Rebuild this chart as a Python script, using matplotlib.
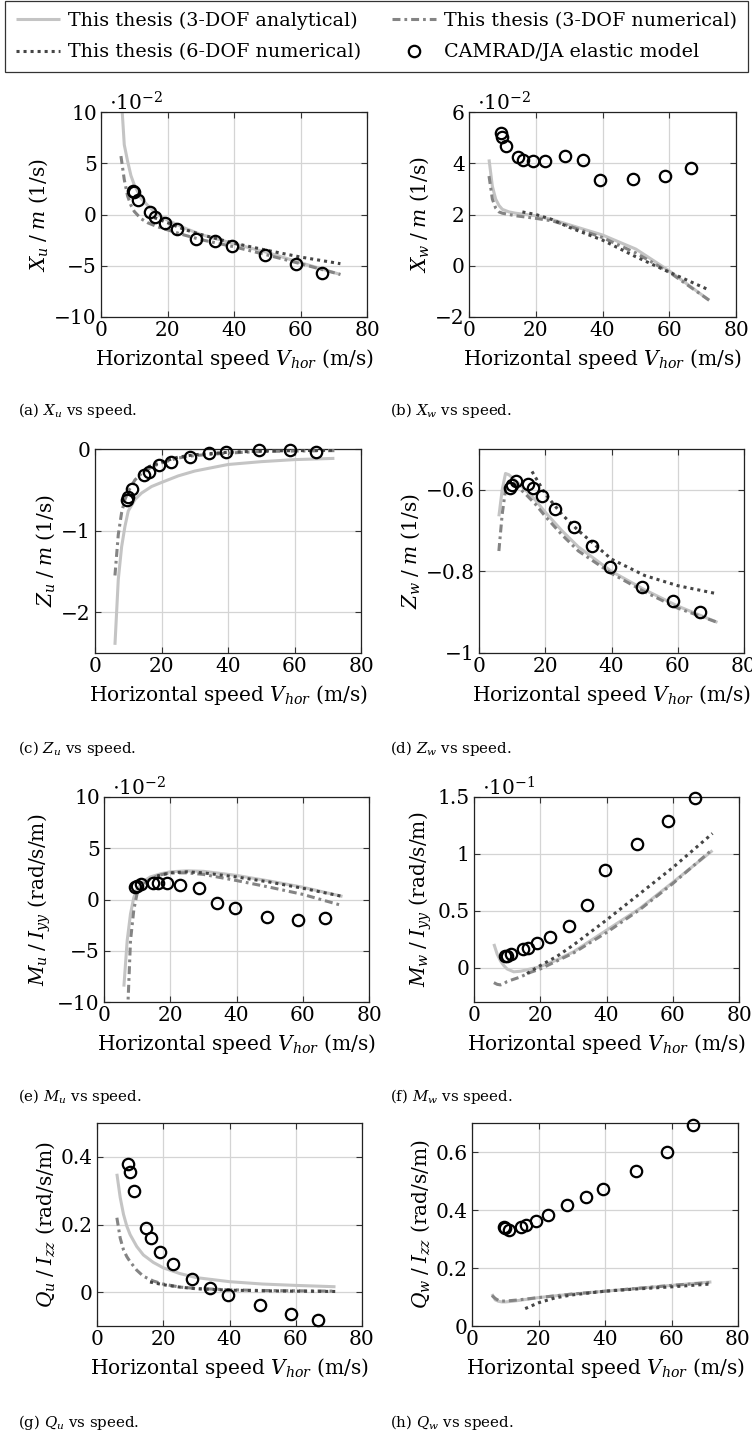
import matplotlib
matplotlib.use("Agg")
import matplotlib.pyplot as plt

plt.rcParams['font.family'] = ['DejaVu Serif']
plt.rcParams['mathtext.fontset'] = 'dejavuserif'

# ---------------- data ----------------
V_cam = [9.5, 10.0, 11.2, 14.7, 16.2, 19.1, 22.8, 28.7, 34.2, 39.4, 49.2, 58.6, 66.6]
V_3dof = [6, 7, 8, 9, 10, 12, 14, 17, 20, 25, 30, 40, 50, 60, 72]
V_6dof = [16, 20, 25, 30, 40, 50, 60, 72]

# (a) Xu/m  (x 1e-2)
xu_an = [12.0, 6.8, 5.2, 3.8, 2.9, 1.6, 0.9, 0.0, -0.55, -1.3, -1.95, -2.85, -3.7, -4.7, -5.85]
xu_dd = [5.7, 3.4, 1.8, 0.9, 0.3, -0.4, -0.8, -1.2, -1.5, -2.0, -2.45, -3.15, -3.95, -4.8, -5.85]
xu_6d = [-0.3, -0.8, -1.45, -1.95, -2.8, -3.5, -4.15, -4.8]
xu_cam = [2.33, 2.17, 1.39, 0.21, -0.21, -0.83, -1.45, -2.4, -2.56, -3.05, -3.93, -4.84, -5.66]

# (b) Xw/m  (x 1e-2)
xw_an = [4.15, 3.1, 2.6, 2.35, 2.2, 2.1, 2.05, 2.0, 1.95, 1.8, 1.6, 1.2, 0.65, -0.2, -1.35]
xw_dd = [3.5, 2.6, 2.25, 2.1, 2.05, 2.0, 1.95, 1.9, 1.85, 1.75, 1.55, 1.1, 0.5, -0.25, -1.35]
xw_6d = [2.1, 2.0, 1.8, 1.5, 1.0, 0.35, -0.25, -0.95]
xw_cam = [5.18, 5.04, 4.69, 4.24, 4.12, 4.07, 4.10, 4.29, 4.12, 3.35, 3.37, 3.50, 3.80]

# (c) Zu/m
zu_an = [-2.4, -1.6, -1.2, -0.95, -0.76, -0.62, -0.54, -0.46, -0.41, -0.33, -0.27, -0.19, -0.155, -0.13, -0.115]
zu_dd = [-1.55, -1.05, -0.78, -0.62, -0.52, -0.38, -0.3, -0.22, -0.17, -0.11, -0.08, -0.05, -0.03, -0.025, -0.02]
zu_6d = [-0.22, -0.16, -0.1, -0.07, -0.04, -0.025, -0.02, -0.015]
zu_cam = [-0.62, -0.59, -0.49, -0.32, -0.28, -0.20, -0.155, -0.094, -0.045, -0.037, -0.016, -0.008, -0.033]

# (d) Zw/m
zw_an = [-0.665, -0.6, -0.56, -0.563, -0.57, -0.585, -0.6, -0.625, -0.655, -0.7, -0.74, -0.8, -0.845, -0.885, -0.925]
zw_dd = [-0.75, -0.66, -0.6, -0.58, -0.58, -0.595, -0.61, -0.635, -0.665, -0.71, -0.75, -0.805, -0.85, -0.89, -0.925]
zw_6d = [-0.555, -0.61, -0.66, -0.70, -0.77, -0.81, -0.835, -0.855]
zw_cam = [-0.595, -0.588, -0.579, -0.585, -0.595, -0.616, -0.646, -0.691, -0.737, -0.789, -0.838, -0.873, -0.900]

# (e) Mu/Iyy  (x 1e-2)
mu_an = [-8.5, -4.0, -1.4, 0.2, 1.0, 1.8, 2.2, 2.5, 2.7, 2.8, 2.75, 2.35, 1.8, 1.2, 0.3]
mu_dd = [-20.0, -12.0, -4.0, -1.0, 0.6, 1.5, 2.0, 2.4, 2.6, 2.6, 2.45, 1.85, 1.2, 0.5, -0.6]
mu_6d = [2.3, 2.6, 2.7, 2.6, 2.2, 1.7, 1.1, 0.3]
mu_cam = [1.21, 1.31, 1.54, 1.64, 1.64, 1.57, 1.41, 1.08, -0.33, -0.82, -1.70, -1.97, -1.84]

# (f) Mw/Iyy  (x 1e-1)
mw_an = [0.21, 0.12, 0.06, 0.02, -0.01, -0.035, -0.03, -0.01, 0.01, 0.07, 0.14, 0.33, 0.52, 0.75, 1.03]
mw_dd = [-0.13, -0.145, -0.15, -0.14, -0.12, -0.1, -0.08, -0.04, -0.01, 0.06, 0.13, 0.31, 0.51, 0.74, 1.04]
mw_6d = [-0.05, 0.02, 0.1, 0.2, 0.42, 0.65, 0.88, 1.18]
mw_cam = [0.102, 0.108, 0.123, 0.161, 0.173, 0.216, 0.269, 0.368, 0.550, 0.857, 1.085, 1.289, 1.494]

# (g) Qu/Izz
qu_an = [0.35, 0.28, 0.23, 0.195, 0.17, 0.135, 0.11, 0.088, 0.072, 0.055, 0.043, 0.031, 0.024, 0.02, 0.016]
qu_dd = [0.22, 0.16, 0.125, 0.105, 0.09, 0.065, 0.047, 0.033, 0.024, 0.015, 0.011, 0.007, 0.005, 0.004, 0.003]
qu_6d = [0.03, 0.022, 0.015, 0.01, 0.006, 0.004, 0.003, 0.002]
qu_cam = [0.380, 0.354, 0.298, 0.189, 0.161, 0.119, 0.082, 0.040, 0.012, -0.008, -0.039, -0.066, -0.083]

# (h) Qw/Izz
qw_an = [0.11, 0.09, 0.085, 0.083, 0.083, 0.085, 0.088, 0.093, 0.098, 0.104, 0.11, 0.12, 0.13, 0.14, 0.152]
qw_dd = [0.105, 0.095, 0.088, 0.086, 0.086, 0.088, 0.09, 0.094, 0.098, 0.104, 0.11, 0.12, 0.13, 0.14, 0.15]
qw_6d = [0.06, 0.08, 0.097, 0.107, 0.12, 0.128, 0.135, 0.145]
qw_cam = [0.343, 0.338, 0.331, 0.343, 0.349, 0.363, 0.384, 0.417, 0.445, 0.474, 0.533, 0.600, 0.693]

x_ticks = [0, 20, 40, 60, 80]
legend_labels = ["This thesis (3-DOF analytical)", "This thesis (6-DOF numerical)",
                 "This thesis (3-DOF numerical)", "CAMRAD/JA elastic model"]

# ---------------- styles ----------------
W, H = 752, 1433
fig = plt.figure(figsize=(W / 100, H / 100), dpi=100)

C_AN = '#c4c4c4'
C_DD = '#848484'
C_6D = '#454545'
LW = 2.2
ST_AN = dict(color=C_AN, lw=LW, ls='-', solid_capstyle='butt')
ST_DD = dict(color=C_DD, lw=LW, ls=(0, (2.6, 1.3, 0.9, 1.3)), dash_capstyle='butt')
ST_6D = dict(color=C_6D, lw=LW, ls=(0, (1.0, 1.3)), dash_capstyle='butt')
ST_CAM = dict(ls='none', marker='o', ms=8.2, mfc='none', mec='black', mew=1.6)

FS = 14.5


def px_axes(x0, x1, y0, y1):
    return fig.add_axes([x0 / W, 1 - y1 / H, (x1 - x0) / W, (y1 - y0) / H])


def fmt(v):
    s = ('%d' % v) if float(v).is_integer() else ('%g' % v)
    return s.replace('-', '\u2212')


panels = [
    ((101, 367, 112, 317), xu_an, xu_dd, xu_6d, xu_cam, (-10, 10), [-10, -5, 0, 5, 10],
     r'$X_u\;/\;m$ (1/s)', r'$\cdot10^{-2}$', r'(a) $X_u$ vs speed.', (18, 411)),
    ((469, 736, 112, 317), xw_an, xw_dd, xw_6d, xw_cam, (-2, 6), [-2, 0, 2, 4, 6],
     r'$X_w\;/\;m$ (1/s)', r'$\cdot10^{-2}$', r'(b) $X_w$ vs speed.', (390, 411)),
    ((95, 361, 449, 653), zu_an, zu_dd, zu_6d, zu_cam, (-2.5, 0), [-2, -1, 0],
     r'$Z_u\;/\;m$ (1/s)', None, r'(c) $Z_u$ vs speed.', (18, 748)),
    ((479, 744, 449, 653), zw_an, zw_dd, zw_6d, zw_cam, (-1, -0.5), [-1, -0.8, -0.6],
     r'$Z_w\;/\;m$ (1/s)', None, r'(d) $Z_w$ vs speed.', (390, 748)),
    ((104, 369, 797, 1002), mu_an, mu_dd, mu_6d, mu_cam, (-10, 10), [-10, -5, 0, 5, 10],
     r'$M_u\;/\;I_{yy}$ (rad/s/m)', r'$\cdot10^{-2}$', r'(e) $M_u$ vs speed.', (18, 1097)),
    ((474, 739, 797, 1002), mw_an, mw_dd, mw_6d, mw_cam, (-0.3, 1.5), [0, 0.5, 1, 1.5],
     r'$M_w\;/\;I_{yy}$ (rad/s/m)', r'$\cdot10^{-1}$', r'(f) $M_w$ vs speed.', (390, 1097)),
    ((97, 362, 1123, 1326), qu_an, qu_dd, qu_6d, qu_cam, (-0.1, 0.5), [0, 0.2, 0.4],
     r'$Q_u\;/\;I_{zz}$ (rad/s/m)', None, r'(g) $Q_u$ vs speed.', (18, 1422)),
    ((472, 738, 1123, 1326), qw_an, qw_dd, qw_6d, qw_cam, (0, 0.7), [0, 0.2, 0.4, 0.6],
     r'$Q_w\;/\;I_{zz}$ (rad/s/m)', None, r'(h) $Q_w$ vs speed.', (390, 1422)),
]

handles = None
for box, y_an, y_dd, y_6d, y_cam, ylim, yticks, ylabel, mult, cap, cappos in panels:
    ax = px_axes(*box)
    h_an, = ax.plot(V_3dof, y_an, **ST_AN, zorder=2)
    h_dd, = ax.plot(V_3dof, y_dd, **ST_DD, zorder=3)
    h_6d, = ax.plot(V_6dof, y_6d, **ST_6D, zorder=4)
    h_cam, = ax.plot(V_cam, y_cam, **ST_CAM, zorder=5, clip_on=False)
    handles = [h_an, h_6d, h_dd, h_cam]
    ax.set_xlim(0, 80)
    ax.set_ylim(*ylim)
    ax.set_xticks(x_ticks)
    ax.set_xticklabels([fmt(v) for v in x_ticks])
    ax.set_yticks(yticks)
    ax.set_yticklabels([fmt(v) for v in yticks])
    ax.tick_params(direction='in', length=4, width=0.8, top=True, right=True,
                   labelsize=FS, pad=3, color='#333333')
    ax.grid(True, color='#d4d4d4', lw=0.9, zorder=0)
    ax.set_axisbelow(True)
    for s in ax.spines.values():
        s.set_linewidth(0.9)
        s.set_color('#222222')
    ax.set_xlabel(r'Horizontal speed $V_{hor}$ (m/s)', fontsize=FS, labelpad=5)
    ax.set_ylabel(ylabel, fontsize=FS, labelpad=3)
    if mult:
        ax.text(0.03, 0.99, mult, transform=ax.transAxes, fontsize=FS,
                ha='left', va='bottom')
    fig.text(cappos[0] / W, 1 - cappos[1] / H, cap, fontsize=10.8,
             ha='left', va='center')

leg = fig.legend(handles, legend_labels, ncol=2, loc='upper left',
                 bbox_to_anchor=(5 / W, 1 - 1 / H, 743 / W, 0), mode='expand',
                 frameon=True, fancybox=False, edgecolor='black', fontsize=13.8,
                 handlelength=2.3, handletextpad=0.45, borderpad=0.55,
                 labelspacing=0.7, columnspacing=0.5, borderaxespad=0)
leg.get_frame().set_linewidth(0.9)

fig.savefig('out.png', dpi=100)
